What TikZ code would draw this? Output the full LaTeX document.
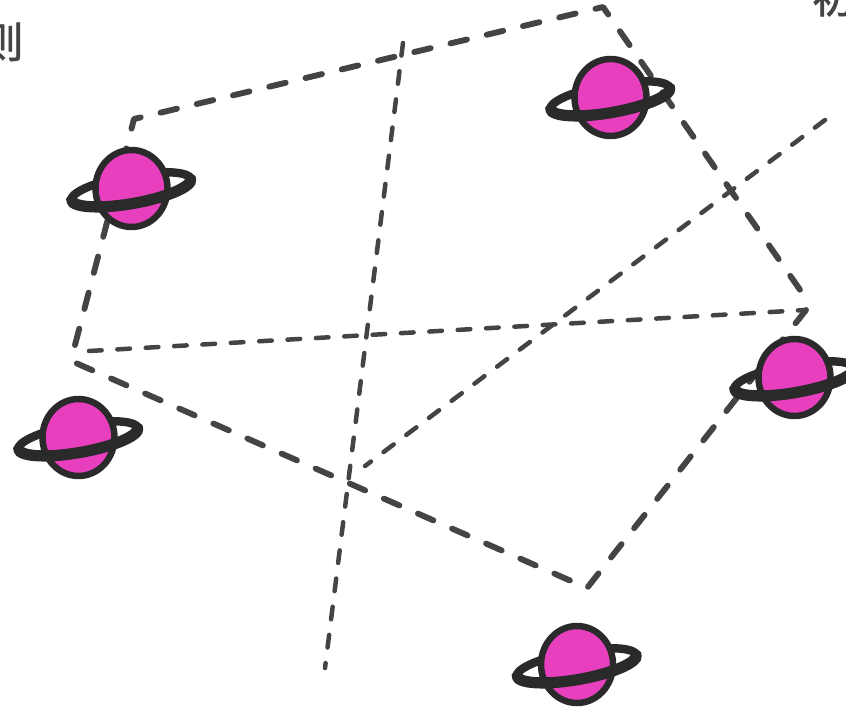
\documentclass[tikz,border=0pt]{standalone}
\usepackage{fontspec}
\newfontfamily\cjk[FakeBold=1.2]{Noto Sans CJK SC}
\usetikzlibrary{calc}
\definecolor{planetpink}{HTML}{E83FBF}
\definecolor{planetdark}{HTML}{2A2A2A}
\definecolor{linegrey}{HTML}{444444}
\tikzset{
	orbitthick/.style={line width=4.2pt, color=linegrey, line cap=round, line join=round, dash pattern=on 12pt off 14.5pt},
	orbitthin/.style={line width=3.2pt, color=linegrey, line cap=round, line join=round, dash pattern=on 9pt off 11.2pt},
	cutlabel/.style={color=linegrey, font=\cjk\fontsize{30pt}{30pt}\selectfont, inner sep=0pt}
}
\def\planet(#1,#2){
	\begin{scope}[shift={(#1,#2)}, rotate=10]
		\draw[line width=6pt, color=planetdark] (-0.5, 1) ellipse (60.5 and 14);
		\draw[line width=4.6pt, color=planetdark, fill=planetpink, rotate=-10] (0, 0) ellipse (36 and 38.5);
		\draw[line width=8pt, color=planetdark, line cap=round] (-61, 1) arc (180:0:60.5 and 14);
	\end{scope}
}

\begin{document}
\begin{tikzpicture}[x=0.025cm, y=-0.025cm]
	%%%%% START %%%%%
	\useasboundingbox (0, 0) rectangle (846, 707);

	\node[cutlabel, anchor=east] (leftlabel) at (24, 42) {则};
	\node[cutlabel, anchor=west] (rightlabel) at (812, -3) {初};

	\coordinate (a) at (75, 345);
	\coordinate (b) at (134, 119);
	\coordinate (c) at (603, 7);
	\coordinate (d) at (805, 297);
	\coordinate (e) at (806, 310);
	\coordinate (f) at (587, 588);
	\coordinate (g) at (69, 360);
	\coordinate (h) at (89, 351);
	\coordinate (i) at (403, 43);
	\coordinate (j) at (325, 668);
	\coordinate (k) at (825, 120);
	\coordinate (l) at (365, 466);

	\draw[orbitthick] (a) -- (b) -- (c) -- (d);
	\draw[orbitthick] (e) -- (f) -- (g);
	\draw[orbitthin] (h) -- (e);
	\draw[orbitthin] (i) -- (j);
	\draw[orbitthin] (k) -- (l);

	\planet(131.5,188.5)
	\planet(610.5,97.5)
	\planet(794.5,377.5)
	\planet(78.5,437.5)
	\planet(577,664.5)
	%%%%% END %%%%%
\end{tikzpicture}
\end{document}
